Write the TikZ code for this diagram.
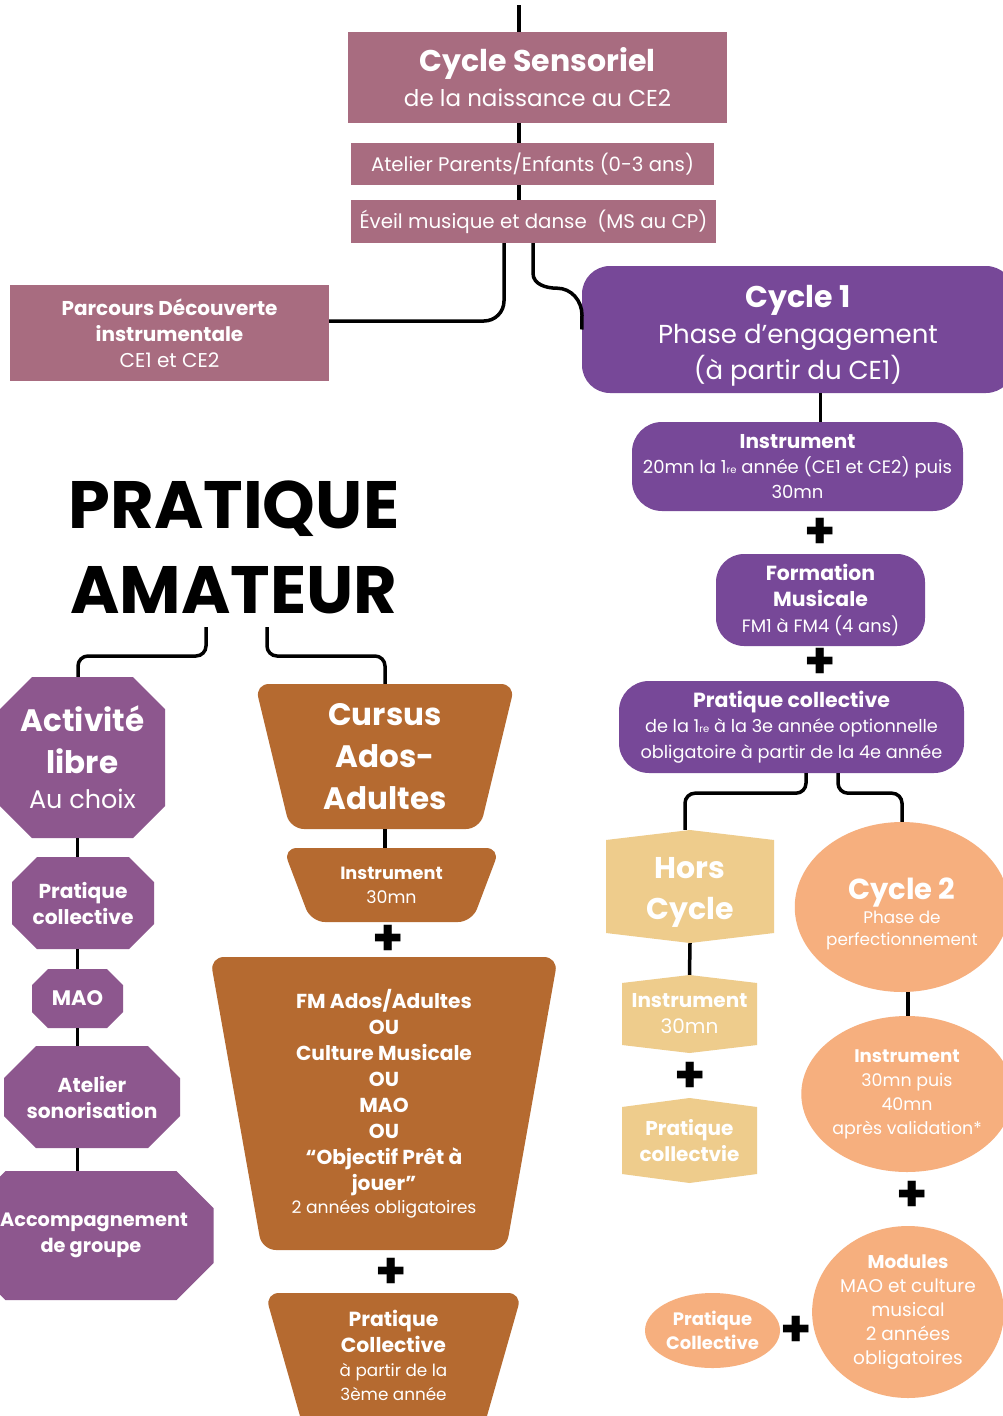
\documentclass[tikz,border=0pt]{standalone}
\usepackage{fontspec}
\setmainfont{Poppins}
\usetikzlibrary{shapes.geometric,positioning}

\definecolor{sensoriel}{RGB}{168,108,128}
\definecolor{engagement}{RGB}{119,72,152}
\definecolor{librecol}{RGB}{141,87,142}
\definecolor{cursuscol}{RGB}{181,106,48}
\definecolor{horscol}{RGB}{238,204,140}
\definecolor{perfcol}{RGB}{246,175,126}

\newcommand{\fsz}[2]{\fontsize{#1}{#2}\selectfont}
\newcommand{\ere}{{\fsz{10}{10}re}}
\newcommand{\tophigh}[1]{\rule{0pt}{#1}}
\newcommand{\lowdeep}[1]{\rule[-#1]{0pt}{#1}}
\newcommand{\pbcorners}{%
  \coordinate (nw) at (path picture bounding box.north west);
  \coordinate (ne) at (path picture bounding box.north east);
  \coordinate (se) at (path picture bounding box.south east);
  \coordinate (sw) at (path picture bounding box.south west);
  \coordinate (n) at (path picture bounding box.north);
  \coordinate (s) at (path picture bounding box.south);}

\tikzset{
link/.style = {draw, line width=3.5pt, black},
sensbox/.style = {fill=sensoriel, text=white, inner sep=0pt, align=center},
engbox/.style = {fill=engagement, text=white, inner sep=0pt, align=center, rounded corners=#1},
engbox/.default = 28pt,
octo/.style = {text=white, inner sep=0pt, align=center,
  path picture={\pbcorners
    \fill[librecol] ([xshift=#1pt]nw) -- ([xshift=-#1pt]ne) -- ([yshift=-#1pt]ne) -- ([yshift=#1pt]se)
      -- ([xshift=-#1pt]se) -- ([xshift=#1pt]sw) -- ([yshift=#1pt]sw) -- ([yshift=-#1pt]nw) -- cycle;}},
funnel/.style = {text=white, inner sep=0pt, align=center,
  path picture={\pbcorners
    \fill[cursuscol, rounded corners=14pt] (nw) -- (ne) -- ([xshift=-#1pt]se) -- ([xshift=#1pt]sw) -- cycle;}},
hexa/.style = {text=white, inner sep=0pt, align=center,
  path picture={\pbcorners
    \fill[horscol] ([yshift=-#1pt]nw) -- (n) -- ([yshift=-#1pt]ne) -- ([yshift=#1pt]se) -- (s) -- ([yshift=#1pt]sw) -- cycle;}},
oval/.style = {ellipse, fill=perfcol, text=white, inner sep=0pt, align=center},
plussign/.style = {font=\fsz{50}{50}\bfseries, inner sep=0pt}
}

\begin{document}
\begin{tikzpicture}[x=1pt, y=-1pt]
\useasboundingbox[fill=white] (0,0) rectangle (1002,1416);

% eveil
\node[sensbox, minimum width=379pt, minimum height=91pt, font=\fsz{23}{35}] (sens) at (537.5,77.5)
  {{\fsz{30}{35}\bfseries Cycle Sensoriel}\\de la naissance au CE2};
\node[sensbox, minimum width=363pt, minimum height=42pt, font=\fsz{19.7}{24}] (atel) at (532.5,164)
  {Atelier Parents/Enfants (0-3 ans)};
\node[sensbox, minimum width=365pt, minimum height=43pt, font=\fsz{19.8}{24}] (eveil) at (533.5,221.5)
  {Éveil musique et danse\ \ (MS au CP)};
\node[sensbox, minimum width=319pt, minimum height=96pt, font=\fsz{20}{26}] (parc) at (169.5,333)
  {\textbf{Parcours Découverte}\\\textbf{instrumentale}\\CE1 et CE2};

% cycle 1
\node[engbox, minimum width=432pt, minimum height=127pt, font=\fsz{26}{36}] (cyc1) at (798,329.5)
  {{\fsz{30}{36}\bfseries\tophigh{34pt}Cycle 1}\\Phase d’engagement\\(à partir du CE1)};
\node[engbox=30pt, minimum width=331pt, minimum height=89pt, font=\fsz{18}{25}] (instr) at (797.5,466.5)
  {{\fsz{20}{25}\bfseries Instrument}\\20mn la 1\ere{} année (CE1 et CE2) puis\\30mn};
\node[plussign] (plus1) at (820,533) {+};
\node[engbox, minimum width=209pt, minimum height=92pt, font=\fsz{17.9}{26}] (form) at (820.5,600)
  {{\fsz{20.4}{26}\bfseries Formation}\\{\fsz{20.4}{26}\bfseries Musicale}\\FM1 à FM4 (4 ans)};
\node[plussign] (plus2) at (820,663) {+};
\node[engbox=30pt, minimum width=345pt, minimum height=92pt, font=\fsz{17.7}{25.5}] (pcol) at (791.5,727)
  {{\fsz{20.5}{25.5}\bfseries Pratique collective}\\de la 1\ere{} à la 3e année optionnelle\\obligatoire à partir de la 4e année};

% hors cycle
\node[hexa=10, minimum width=168pt, minimum height=113pt, font=\fsz{30}{41}\bfseries] (hors) at (690,886.5)
  {\tophigh{33pt}Hors\\Cycle};
\node[hexa=8, minimum width=135pt, minimum height=78pt, font=\fsz{20}{26}] (hinstr) at (689.5,1014)
  {\textbf{Instrument}\\30mn};
\node[plussign] (plus3) at (690,1077) {+};
\node[hexa=9, minimum width=135pt, minimum height=85pt, font=\fsz{20}{26}\bfseries] (hprat) at (689.5,1140.5)
  {Pratique\\collectvie};

% cycle 2
\node[oval, minimum width=212pt, minimum height=170pt, font=\fsz{16.8}{22}] (cyc2) at (902,907)
  {{\fsz{29}{22}\bfseries\tophigh{35.5pt}Cycle 2}\\[2pt]Phase de\\perfectionnement};
\node[oval, minimum width=202pt, minimum height=156pt, font=\fsz{17.4}{24}] (c2instr) at (907,1094)
  {{\fsz{18.2}{24}\bfseries Instrument}\\30mn puis\\40mn\\après validation*};
\node[plussign] (plus4) at (912,1196) {+};
\node[oval, minimum width=184pt, minimum height=172pt, font=\fsz{18.5}{24}] (modul) at (908,1312)
  {\textbf{Modules}\\MAO et culture\\musical\\2 années\\obligatoires};
\node[oval, minimum width=135pt, minimum height=75pt, font=\fsz{18}{24}\bfseries] (ovcol) at (712.5,1330.5)
  {Pratique\\Collective};
\node[plussign] (plus5) at (796,1331) {+};

% pratique amateur
\node[font=\fsz{67}{85}\bfseries, align=center, inner sep=0pt] (titre) at (234,547) {PRATIQUE\\AMATEUR};
\coordinate (tl) at (206,627);
\coordinate (tr) at (267,627);

\node[octo=32, minimum width=165pt, minimum height=161pt, font=\fsz{25.5}{35}] (libre) at (82.5,757.5)
  {{\fsz{31}{35}\bfseries Activité}\\[7pt]{\fsz{31}{35}\bfseries libre}\\Au choix};
\node[octo=25, minimum width=142pt, minimum height=92pt, font=\fsz{20.2}{26}\bfseries] (lprat) at (83,903)
  {Pratique\\collective};
\node[octo=16, minimum width=91pt, minimum height=59pt, font=\fsz{21}{24}\bfseries] (mao) at (77.5,998.5) {MAO};
\node[octo=32, minimum width=176pt, minimum height=102pt, font=\fsz{20.2}{26}\bfseries] (sono) at (92,1097)
  {Atelier\\sonorisation};
\node[octo=37, minimum width=245pt, minimum height=129pt, font=\fsz{19.3}{26}\bfseries] (accomp) at (91,1235.5)
  {\hspace*{6pt}Accompagnement\\de groupe};

\node[funnel=35, minimum width=260pt, minimum height=145pt, font=\fsz{31}{42}\bfseries] (cursus) at (385,756.5)
  {Cursus\\Ados-\\Adultes};
\node[funnel=28, minimum width=217pt, minimum height=74pt, font=\fsz{17.4}{24}] (cinstr) at (391.5,885)
  {{\fsz{17.7}{24}\bfseries Instrument}\\30mn};
\node[plussign] (plus6) at (388,940) {+};
\node[funnel=52, minimum width=348pt, minimum height=293pt, font=\fsz{20.2}{26}\bfseries] (fm) at (384,1103.5)
  {FM Ados/Adultes\\OU\\Culture Musicale\\OU\\MAO\\OU\\“Objectif Prêt à\\jouer”\\[-3pt]{\fsz{17.2}{23}\mdseries 2 années obligatoires}};
\node[plussign] (plus7) at (391,1273) {+};
\node[funnel=39, minimum width=257pt, minimum height=137pt, font=\fsz{16.8}{24}] (cprat) at (393.5,1361.5)
  {{\fsz{20.4}{26}\bfseries Pratique}\\[2pt]{\fsz{20.4}{26}\bfseries Collective}\\à partir de la\\3ème année\lowdeep{12pt}};

% liens
\coordinate (haut) at (519,5);
\draw[link] (haut) -- (haut |- sens.north);
\draw[link] (haut |- sens.south) -- (haut |- atel.north);
\draw[link] (haut |- atel.south) -- (haut |- eveil.north);
\draw[link, rounded corners=20pt] ([xshift=-29.5pt]eveil.south) |- ([yshift=12pt]parc.east);
\draw[link] ([xshift=-0.5pt]eveil.south) -- ++(0,30) to[out=-90,in=180] ++(24,15) to[out=0,in=90] ++(25,27) -- (cyc1.west);
\draw[link] (cyc1.south -| form) -- (instr.north -| form);
\draw[link, rounded corners=10pt] ([xshift=14.5pt]pcol.south) -- ++(0,20) -| ([xshift=-5pt]hors.north);
\draw[link, rounded corners=10pt] ([xshift=46.5pt]pcol.south) -- ++(0,20) -| (cyc2.north);
\draw[link] (hors.south) -- (hinstr.north);
\draw[link] ([xshift=6pt]cyc2.south) -- ([xshift=6pt]cyc2.south |- c2instr.north);
\draw[link, rounded corners=10pt] (tl) -- ++(0,29) -| ([xshift=-4.5pt]libre.north);
\draw[link, rounded corners=10pt] (tr) -- ++(0,29) -| (cursus.north);
\draw[link] (libre.south -| mao) -- (lprat.north -| mao);
\draw[link] (lprat.south -| mao) -- (mao.north);
\draw[link] (mao.south) -- (sono.north -| mao);
\draw[link] (sono.south -| mao) -- (accomp.north -| mao);
\draw[link] (cursus.south) -- (cursus.south |- cinstr.north);
\end{tikzpicture}
\end{document}
